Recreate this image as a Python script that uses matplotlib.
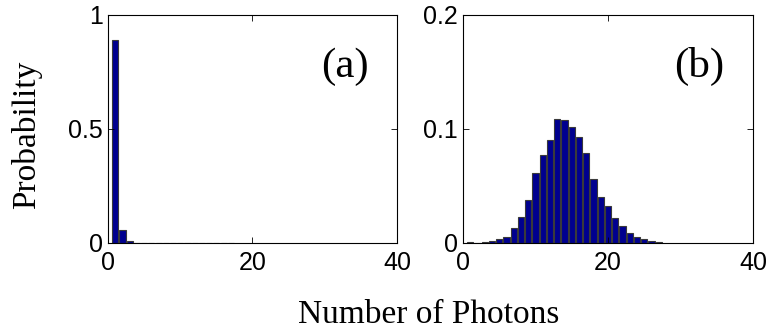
import numpy as np
import matplotlib
matplotlib.use("Agg")
from matplotlib import pyplot as plt

# photon number distributions
n_a = np.arange(1, 18)
p_a = [0.892, 0.058, 0.007, 0.002, 0.0015, 0.0012, 0.001, 0.001, 0.001,
       0.001, 0.001, 0.001, 0.001, 0.001, 0.001, 0.001, 0.001]

n_b = np.arange(1, 28)
p_b = [0.001, 0.0003, 0.001, 0.0015, 0.0035, 0.0056, 0.013, 0.023, 0.038,
       0.0617, 0.077, 0.0906, 0.109, 0.108, 0.102, 0.093, 0.079, 0.056,
       0.0406, 0.0325, 0.022, 0.0152, 0.0088, 0.005, 0.0035, 0.002, 0.0009]

xticks = [0, 20, 40]
yticks_a = [0, 0.5, 1]
ytick_labels_a = ["0", "0.5", "1"]
yticks_b = [0, 0.1, 0.2]
ytick_labels_b = ["0", "0.1", "0.2"]

bar_color = "#00008f"
edge_color = "#3a3a3a"
tick_font = "Liberation Sans"
serif = "Liberation Serif"

fig = plt.figure(figsize=(7.68, 3.33), dpi=100)
ax_a = fig.add_axes([108/768, 90/333, 289/768, 228/333])
ax_b = fig.add_axes([463/768, 90/333, 290/768, 228/333])

panels = [
    (ax_a, n_a, p_a, yticks_a, ytick_labels_a, 1.0, "(a)", 0.82),
    (ax_b, n_b, p_b, yticks_b, ytick_labels_b, 0.2, "(b)", 0.814),
]

for ax, n, p, yt, ytl, ymax, tag, tx in panels:
    ax.bar(n, p, width=0.85, color=bar_color, edgecolor=edge_color, linewidth=0.8)
    ax.set_xlim(0, 40)
    ax.set_ylim(0, ymax)
    ax.set_xticks(xticks)
    ax.set_xticklabels([str(t) for t in xticks], fontfamily=tick_font, fontsize=18)
    ax.set_yticks(yt)
    ax.set_yticklabels(ytl, fontfamily=tick_font, fontsize=18)
    ax.tick_params(direction="in", top=True, right=True, length=4, width=0.6)
    ax.tick_params(axis="x", pad=5.5)
    ax.tick_params(axis="y", pad=3.5)
    for s in ax.spines.values():
        s.set_linewidth(0.8)
    ax.text(tx, 0.772, tag, transform=ax.transAxes, ha="center", va="center",
            fontfamily=serif, fontsize=31)

fig.text(27/768, 1 - 135/333, "Probability", rotation=90, ha="center", va="center",
         fontfamily=serif, fontsize=24)
fig.text(429/768, 1 - 315/333, "Number of Photons", ha="center", va="center",
         fontfamily=serif, fontsize=24)

fig.savefig("out.png", dpi=100)
